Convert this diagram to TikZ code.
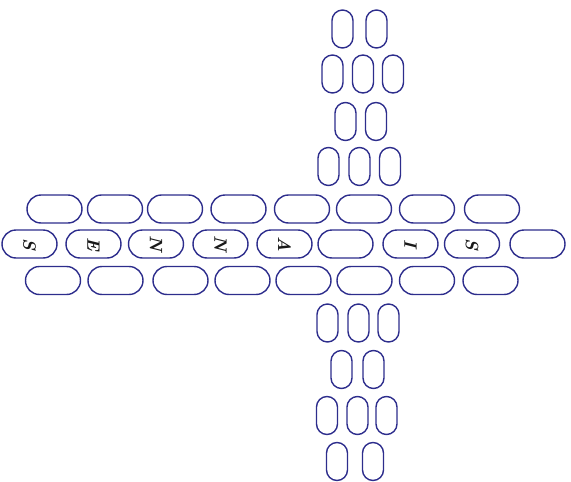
\documentclass[tikz,border=0pt]{standalone}
\usepackage{graphicx}
\definecolor{navy}{RGB}{45,45,140}
\tikzset{
  hst/.style={draw=navy, line width=1.4pt, rectangle, rounded corners=14pt,
    minimum width=55pt, minimum height=28pt, inner sep=0pt,
    font=\fontsize{18}{18}\selectfont\bfseries\itshape, text=black!90},
  vst/.style={draw=navy, line width=1.4pt, rectangle, rounded corners=10.5pt,
    minimum width=21pt, minimum height=38pt, inner sep=0pt}
}
\newcommand{\rl}[1]{\rotatebox{-90}{#1}}
\begin{document}
\begin{tikzpicture}[x=1pt,y=-1pt]
\useasboundingbox (0,0) rectangle (571,482);
% top row
\foreach \cx [count=\i] in {54.5,115,175,238.5,302,364,427,492}
  \node[hst] (t\i) at (\cx,209) {};
% bottom row
\foreach \cx [count=\i] in {53,115.5,180.5,242.5,303.5,364.5,427,490.5}
  \node[hst] (b\i) at (\cx,280.5) {};
% middle row with letters
\foreach \cx/\t [count=\i] in {29.5/S,93.5/E,156/N,220.5/N,284.5/A,345.5/{},410.5/I,472/S,537.5/{}}
  \node[hst] (m\i) at (\cx,244) {\rl{\t}};
% vertical column, top part
\foreach \cx [count=\i] in {342.5,376.5}
  \node[vst] (va\i) at (\cx,29) {};
\foreach \cx [count=\i] in {332.5,363,393}
  \node[vst] (vb\i) at (\cx,74) {};
\foreach \cx [count=\i] in {345.5,376}
  \node[vst] (vc\i) at (\cx,121.5) {};
\foreach \cx [count=\i] in {328.5,359.5,390}
  \node[vst] (vd\i) at (\cx,166.5) {};
% vertical column, bottom part
\foreach \cx [count=\i] in {327.5,358.5,388.5}
  \node[vst] (ve\i) at (\cx,323) {};
\foreach \cx [count=\i] in {341.5,373.5}
  \node[vst] (vf\i) at (\cx,369.5) {};
\foreach \cx [count=\i] in {327,357.5,386.5}
  \node[vst] (vg\i) at (\cx,415.5) {};
\foreach \cx [count=\i] in {337,373}
  \node[vst] (vh\i) at (\cx,461.5) {};
\end{tikzpicture}
\end{document}
